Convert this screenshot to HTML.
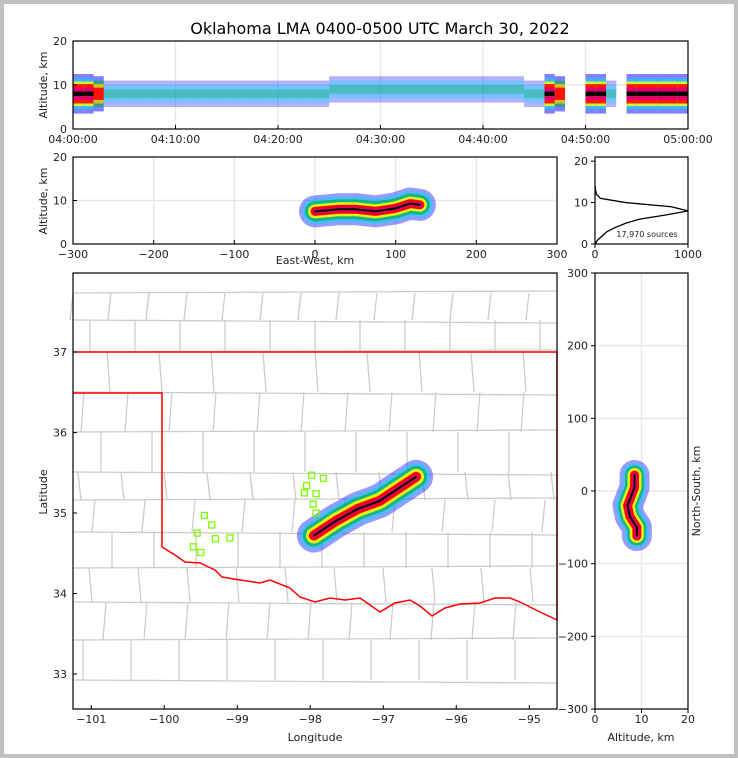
<!DOCTYPE html>
<html><head><meta charset="utf-8"><style>
html,body{margin:0;padding:0;background:#fff}
svg{display:block;font-family:"DejaVu Sans","Liberation Sans",sans-serif}
</style></head><body>
<svg id="s" width="738" height="758" viewBox="0 0 738 758" xmlns="http://www.w3.org/2000/svg">
<rect x="2" y="2" width="734" height="754" fill="#fff" stroke="#c0c0c0" stroke-width="4"/>
<text x="380" y="34" font-size="16" text-anchor="middle">Oklahoma LMA 0400-0500 UTC March 30, 2022</text>
<g id="g"></g>
</svg>
<script>
// ---- data ----
const timeMinutes=[0,1,2,3,4,5,6,7,8,9,10,11,12,13,14,15,16,17,18,19,20,21,22,23,24,25,26,27,28,29,30,31,32,33,34,35,36,37,38,39,40,41,42,43,44,45,46,47,48,49,50,51,52,53,54,55,56,57,58,59];
const minuteActivity=[3,3,2,1,1,1,1,1,1,1,1,1,1,1,1,1,1,1,1,1,1,1,1,1,1,1,1,1,1,1,1,1,1,1,1,1,1,1,1,1,1,1,1,1,1,1,3,2,0,0,3,3,1,0,3,3,3,3,3,3];
const minuteAltCenter=[8,8,8,8,8,8,8,8,8,8,8,8,8,8,8,8,8,8,8,8,8,8,8,8,8,9,9,9,9,9,9,9,9,9,9,9,9,9,9,9,9,9,9,9,8,8,8,8,8,8,8,8,8,8,8,8,8,8,8,8];
const histAlt=[0,1,2,3,4,5,6,7,8,9,10,11,12,13,14];
const histCount=[0,30,80,130,220,330,480,760,1000,820,330,60,15,5,0];
const ewPathX=[0,30,50,75,100,118,130];
const ewPathAlt=[7.5,8,8,7.5,8.2,9.3,9];
const nsPathAlt=[8.5,8.5,7,7.5,9,9];
const nsPathY=[22,5,-20,-35,-50,-62];
const mapPathLon=[-97.95,-97.65,-97.35,-97.05,-96.8,-96.55];
const mapPathLat=[34.72,34.9,35.05,35.15,35.3,35.45];
const greenLon=[-99.45,-99.35,-99.55,-99.3,-99.6,-99.5,-99.1,-97.98,-97.82,-98.05,-97.92,-98.08,-97.96,-97.92];
const greenLat=[34.97,34.85,34.75,34.68,34.58,34.51,34.69,35.47,35.43,35.34,35.24,35.25,35.11,35.0];
const layerColors=["#0000ff","#00e0ff","#00b050","#ffff00","#ff0000","#e0006a","#000000"];
const layerOpacity=[0.4,0.5,0.7,0.85,1,1,1];

const NS="http://www.w3.org/2000/svg";
const G=document.getElementById('g');
function el(t,a,p){const e=document.createElementNS(NS,t);for(const k in a)e.setAttribute(k,a[k]);(p||G).appendChild(e);return e;}
function lin(d0,d1,r0,r1){return v=>r0+(v-d0)*(r1-r0)/(d1-d0);}
function txt(x,y,s,opts,name){const t=el('text',Object.assign({x:x,y:y,'font-size':11,'text-anchor':'middle',fill:'#222'},opts||{}));t.textContent=s;return t;}
function frame(x,y,w,h,name){const r=el('rect',{x:x,y:y,width:w,height:h,fill:'none',stroke:'#000','stroke-width':1.2});}
function grid(x1,y1,x2,y2){const l=el('line',{x1:x1,y1:y1,x2:x2,y2:y2,stroke:'#e8e8e8','stroke-width':1.5});}
function tick(x1,y1,x2,y2){const l=el('line',{x1:x1,y1:y1,x2:x2,y2:y2,stroke:'#000','stroke-width':1});}
function band(xs,ys,name,w){const pts=xs.map((x,i)=>x+','+ys[i]).join(' ');layerColors.forEach((c,i)=>{const p=el('polyline',{points:pts,fill:'none',stroke:c,'stroke-width':w[i],'stroke-linecap':'round','stroke-linejoin':'round',opacity:layerOpacity[i]});});}

// ---- top panel: time-height ----
(function(){const X=lin(0,60,73,688),Y=lin(0,20,129,41);
[10].forEach(v=>grid(73,Y(v),688,Y(v)));[10,20,30,40,50].forEach(v=>grid(X(v),41,X(v),129));
timeMinutes.forEach((m,i)=>{const a=minuteActivity[i];if(a===0)return;const c=minuteAltCenter[i];
 const spans=a===3?[[4.5,"#0000ff",0.5],[3.5,"#00e0ff",0.6],[2.8,"#ffff00",0.8],[2.2,"#ff0000",0.9],[1.4,"#e0006a",1],[0.5,"#000",1]]:a===2?[[4,"#0000ff",0.5],[3,"#00b050",0.6],[2.2,"#ffcc00",0.8],[1.4,"#ff0000",0.9]]:[[3,"#0000ff",0.3],[2,"#00e0ff",0.35],[1,"#00b050",0.35]];
 spans.forEach(s=>{const r=el('rect',{x:X(m),y:Y(c+s[0]),width:X(m+1)-X(m),height:Y(c-s[0])-Y(c+s[0]),fill:s[1],opacity:s[2]});});});
frame(73,41,615,88,'time-height-axes');
[0,10,20].forEach(v=>{tick(73,Y(v),77,Y(v));txt(67,Y(v)+4,String(v),{'text-anchor':'end'},'y-tick-label');});
["04:00:00","04:10:00","04:20:00","04:30:00","04:40:00","04:50:00","05:00:00"].forEach((s,i)=>{tick(X(i*10),129,X(i*10),125);txt(X(i*10),143,s,{},'x-tick-label');});
txt(47,85,'Altitude, km',{transform:'rotate(-90 47 85)'},'y-axis-title');})();

// ---- EW vs altitude ----
(function(){const X=lin(-300,300,73,557),Y=lin(0,20,244,157);
[10].forEach(v=>grid(73,Y(v),557,Y(v)));[-200,-100,0,100,200].forEach(v=>grid(X(v),157,X(v),244));
band(ewPathX.map(X),ewPathAlt.map(Y),'ew-density',[32,26,20,14,9,5,2]);
frame(73,157,484,87,'ew-altitude-axes');
[0,10,20].forEach(v=>{tick(73,Y(v),77,Y(v));txt(67,Y(v)+4,String(v),{'text-anchor':'end'},'y-tick-label');});
[-300,-200,-100,0,100,200,300].forEach(v=>{tick(X(v),244,X(v),240);txt(X(v),258,v<0?'\u2212'+(-v):String(v),{},'x-tick-label');});
txt(315,264,'East-West, km',{},'x-axis-title');
txt(47,201,'Altitude, km',{transform:'rotate(-90 47 201)'},'y-axis-title');})();

// ---- histogram ----
(function(){const X=lin(0,1000,595,688),Y=lin(0,21,244,157);
const pts=histAlt.map((a,i)=>X(histCount[i])+','+Y(a)).join(' ');
const p=el('polyline',{points:pts,fill:'none',stroke:'#000','stroke-width':1.3});
frame(595,157,93,87,'histogram-axes');
[0,10,20].forEach(v=>{tick(595,Y(v),591,Y(v));txt(588,Y(v)+4,String(v),{'text-anchor':'end'},'y-tick-label');});
[0,1000].forEach(v=>{tick(X(v),244,X(v),248);txt(X(v),258,String(v),{},'x-tick-label');});
txt(647,237,'17,970 sources',{'font-size':8},'source-count-label');})();

// ---- map ----
(function(){const X=lin(-101.25,-94.62,73,557),Y=lin(33,37,674,352);
const cg=el('g',{stroke:'#cccccc','stroke-width':1.3,fill:'none'});
const hs=[293,320,352,392,432,472,500,532,568,602,640,680];
hs.forEach((y,j)=>{el('line',{x1:73,y1:y,x2:557,y2:y+(j%2?3:-2)},cg);});
for(let j=0;j<hs.length-1;j++){const off=(j*17)%40;for(let x=73+off;x<557;x+=38+((j*7)%15)){el('line',{x1:x,y1:hs[j],x2:x+((j%3)-1)*3,y2:hs[j+1]},cg);}}
const bd=el('polyline',{points:"73,352 557,352 557,620",fill:'none',stroke:'#ff0000','stroke-width':1.5});
const bd2=el('polyline',{points:"73,393 162,393 162,547",fill:'none',stroke:'#ff0000','stroke-width':1.5});
const rr=el('polyline',{points:"162,547 175,555 185,562 200,563 215,570 222,577 240,580 260,583 270,580 290,588 300,597 315,602 330,598 345,600 360,598 370,605 380,612 395,603 410,600 420,606 432,616 445,608 460,604 480,603 495,598 510,598 520,602 540,612 557,620",fill:'none',stroke:'#ff0000','stroke-width':1.5});
band(mapPathLon.map(X),mapPathLat.map(Y),'map-density',[34,28,22,16,10,5,2]);
greenLon.forEach((lo,i)=>{const r=el('rect',{x:X(lo)-3,y:Y(greenLat[i])-3,width:6,height:6,fill:'none',stroke:'#7cfc00','stroke-width':1.3});});
frame(73,273,484,436,'map-axes');
[33,34,35,36,37].forEach(v=>{tick(73,Y(v),77,Y(v));txt(67,Y(v)+4,String(v),{'text-anchor':'end'},'y-tick-label');});
[-101,-100,-99,-98,-97,-96,-95].forEach(v=>{tick(X(v),709,X(v),705);txt(X(v),723,'\u2212'+(-v),{},'x-tick-label');});
txt(315,741,'Longitude',{},'x-axis-title');
txt(47,492,'Latitude',{transform:'rotate(-90 47 492)'},'y-axis-title');})();

// ---- NS vs altitude ----
(function(){const X=lin(0,20,595,688),Y=lin(-300,300,709,273);
[-200,-100,0,100,200].forEach(v=>grid(595,Y(v),688,Y(v)));grid(X(10),273,X(10),709);
band(nsPathAlt.map(X),nsPathY.map(Y),'ns-density',[30,24,19,14,9,5,2]);
frame(595,273,93,436,'ns-altitude-axes');
[-300,-200,-100,0,100,200,300].forEach(v=>{tick(595,Y(v),591,Y(v));txt(588,Y(v)+4,v<0?'\u2212'+(-v):String(v),{'text-anchor':'end'},'y-tick-label');});
[0,10,20].forEach(v=>{tick(X(v),709,X(v),713);txt(X(v),723,String(v),{},'x-tick-label');});
txt(641,741,'Altitude, km',{},'x-axis-title');
txt(700,491,'North-South, km',{transform:'rotate(-90 700 491)'},'y-axis-title');})();
</script>
</body></html>
